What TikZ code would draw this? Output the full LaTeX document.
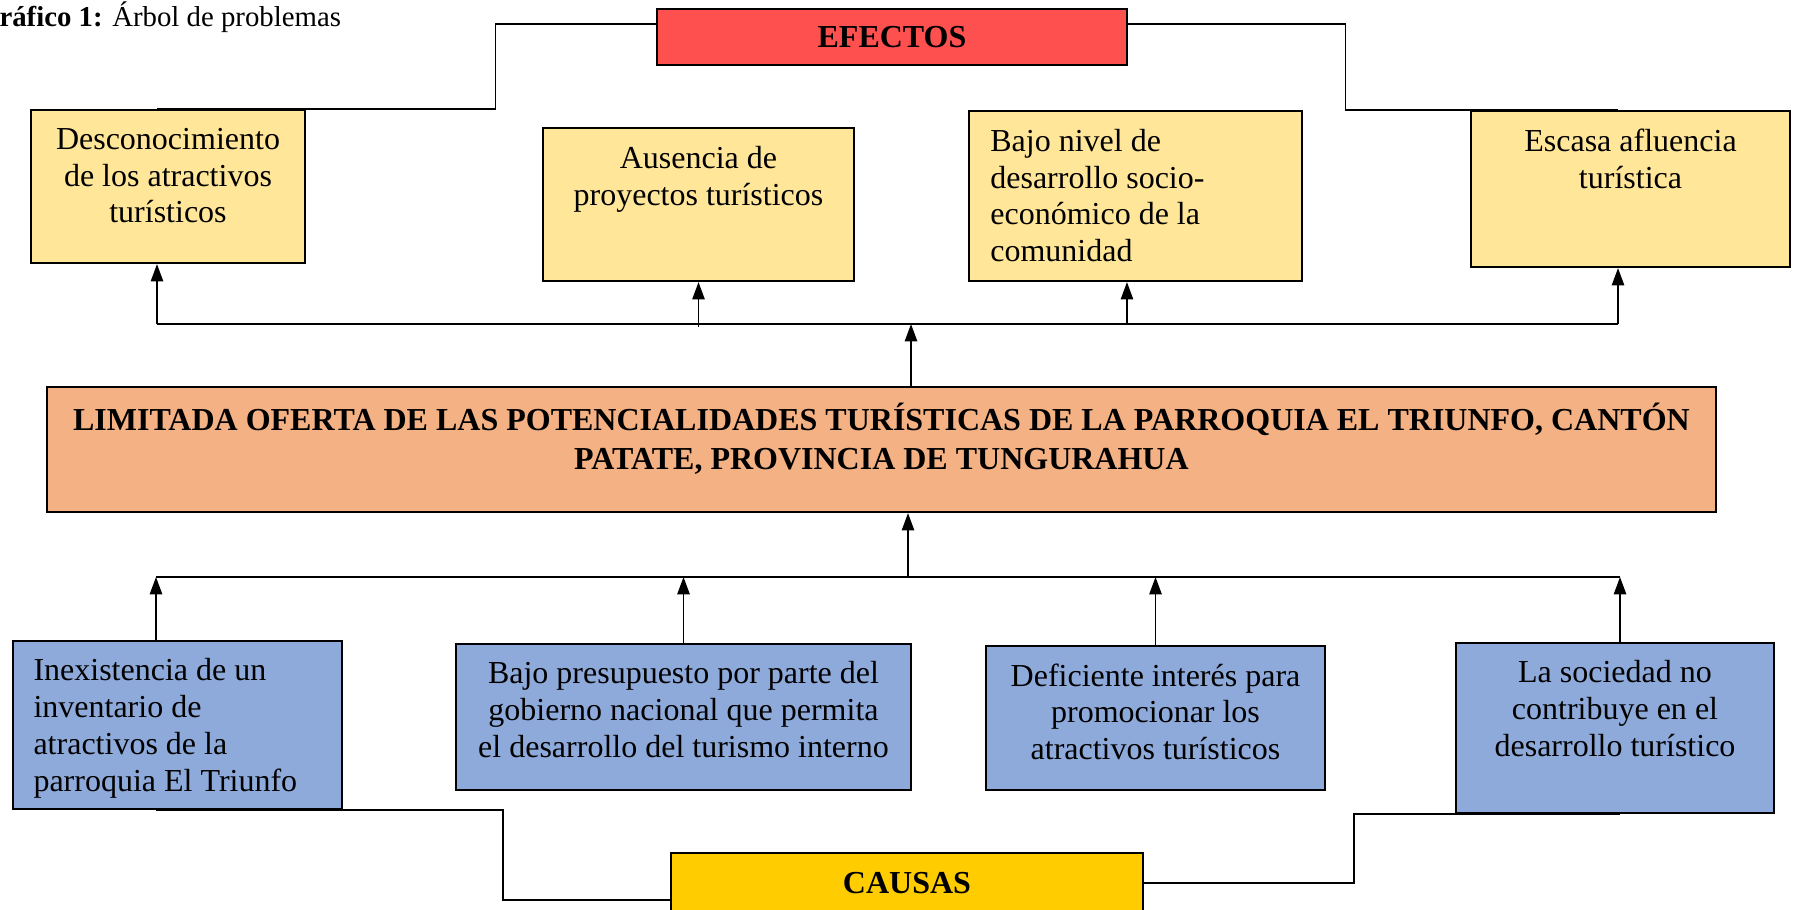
\documentclass[tikz,border=0pt]{standalone}
\usepackage{fontspec}
\setmainfont{Liberation Serif}
\usetikzlibrary{arrows.meta,positioning,calc,fit}
\definecolor{efyellow}{HTML}{FFE699}
\definecolor{efred}{HTML}{FF5050}
\definecolor{proborange}{HTML}{F4B183}
\definecolor{cablue}{HTML}{8EAADB}
\definecolor{cayellow}{HTML}{FFCC00}

\begin{document}
\begin{tikzpicture}[x=0.375pt,y=-0.375pt,
    box/.style={draw=black, line width=0.8pt, inner sep=0pt},
    effbox/.style={box, fill=efyellow},
    causebox/.style={box, fill=cablue},
    headbox/.style={box, font=\bfseries\fontsize{12}{13.8}\selectfont, minimum height=22pt},
    boxtext/.style={inner sep=0pt, font=\fontsize{12}{13.8}\selectfont, align=center, anchor=north, execute at begin node=\strut},
    arr/.style={line width=0.7pt, -{Triangle[width=4.6pt,length=6.5pt]}},
    link/.style={line width=0.5pt}]
    \clip (0,0) rectangle (1796,909);

    \node[anchor=base west, inner sep=0pt, font=\fontsize{10.8}{13}\selectfont] (caption) at (-1,27) {\textbf{ráfico 1:} Árbol de problemas};

    \node[headbox, fill=efred, minimum width=176pt, minimum height=21pt] (efectos) at (892,37) {EFECTOS};

    \node[effbox, fit={(31,110) (305,263)}] (e1) {};
    \node[effbox, fit={(543,128) (854,281)}] (e2) {};
    \node[effbox, fit={(969,111) (1302,281)}] (e3) {};
    \node[effbox, fit={(1471,111) (1790,267)}] (e4) {};
    \node[boxtext] (e1t) at ([yshift=-7pt]e1.north) {Desconocimiento\\de los atractivos\\turísticos};
    \node[boxtext] (e2t) at ([yshift=-7pt]e2.north) {Ausencia de\\proyectos turísticos};
    \node[boxtext, align=left, anchor=north west] (e3t) at ([xshift=8.2pt,yshift=-7pt]e3.north west) {Bajo nivel de\\desarrollo socio-\\económico de la\\comunidad};
    \node[boxtext] (e4t) at ([yshift=-7pt]e4.north) {Escasa afluencia\\turística};

    \node[box, fill=proborange, fit={(47,387) (1716,512)}] (prob) {};
    \node[boxtext, font=\bfseries\fontsize{12}{14.3}\selectfont] (probt) at ([yshift=-6.4pt]prob.north) {LIMITADA OFERTA DE LAS POTENCIALIDADES TURÍSTICAS DE LA PARROQUIA EL TRIUNFO, CANTÓN\\PATATE, PROVINCIA DE TUNGURAHUA};

    \node[causebox, fit={(13,641) (342,809)}] (c1) {};
    \node[causebox, fit={(456,644) (911,790)}] (c2) {};
    \node[causebox, fit={(986,646) (1325,790)}] (c3) {};
    \node[causebox, fit={(1456,643) (1774,813)}] (c4) {};
    \node[boxtext, align=left, anchor=north west] (c1t) at ([xshift=7.9pt,yshift=-6.8pt]c1.north west) {Inexistencia de un\\inventario de\\atractivos de la\\parroquia El Triunfo};
    \node[boxtext] (c2t) at ([yshift=-6.8pt]c2.north) {Bajo presupuesto por parte del\\gobierno nacional que permita\\el desarrollo del turismo interno};
    \node[boxtext] (c3t) at ([yshift=-6.8pt]c3.north) {Deficiente interés para\\promocionar los\\atractivos turísticos};
    \node[boxtext] (c4t) at ([yshift=-6.8pt]c4.north) {La sociedad no\\contribuye en el\\desarrollo turístico};

    \node[headbox, fill=cayellow, minimum width=177pt, minimum height=22.5pt] (causas) at (907,883) {CAUSAS};

    \coordinate (tl) at (157,324);
    \coordinate (tr) at (1618,324);
    \coordinate (up) at (911,324);
    \coordinate (bl) at (156,577);
    \coordinate (br) at (1620,577);
    \coordinate (dn) at (908,577);

    \draw[arr, -] (tl) -- (tr);
    \draw[arr] (tl) -- (tl |- e1.south);
    \draw[arr] ([yshift=-1pt]e2.south |- tl) -- (e2.south);
    \draw[arr] ([xshift=-3.2pt]e3.south |- tl) -- ([xshift=-3.2pt]e3.south);
    \draw[arr] (tr) -- (tr |- e4.south);
    \draw[arr] (up |- prob.north) -- (up);

    \draw[arr, -] (bl) -- (br);
    \draw[arr] (dn) -- (dn |- prob.south);
    \draw[arr] (bl |- c1.north) -- (bl);
    \draw[arr] (c2.north) -- (c2.north |- bl);
    \draw[arr] (c3.north) -- (c3.north |- bl);
    \draw[arr] (br |- c4.north) -- (br);

    \draw[link] ([yshift=4.9pt]efectos.west) -- ++(-161,0) |- (tl |- e1.north);
    \draw[link] ([yshift=4.9pt]efectos.east) -- ++(218,0) |- (tr |- e4.north);
    \draw[link] ([yshift=-6.4pt]causas.west) -- ++(-167,0) |- (bl |- c1.south);
    \draw[link] (causas.east) -- ++(210,0) |- (br |- c4.south);
\end{tikzpicture}
\end{document}
